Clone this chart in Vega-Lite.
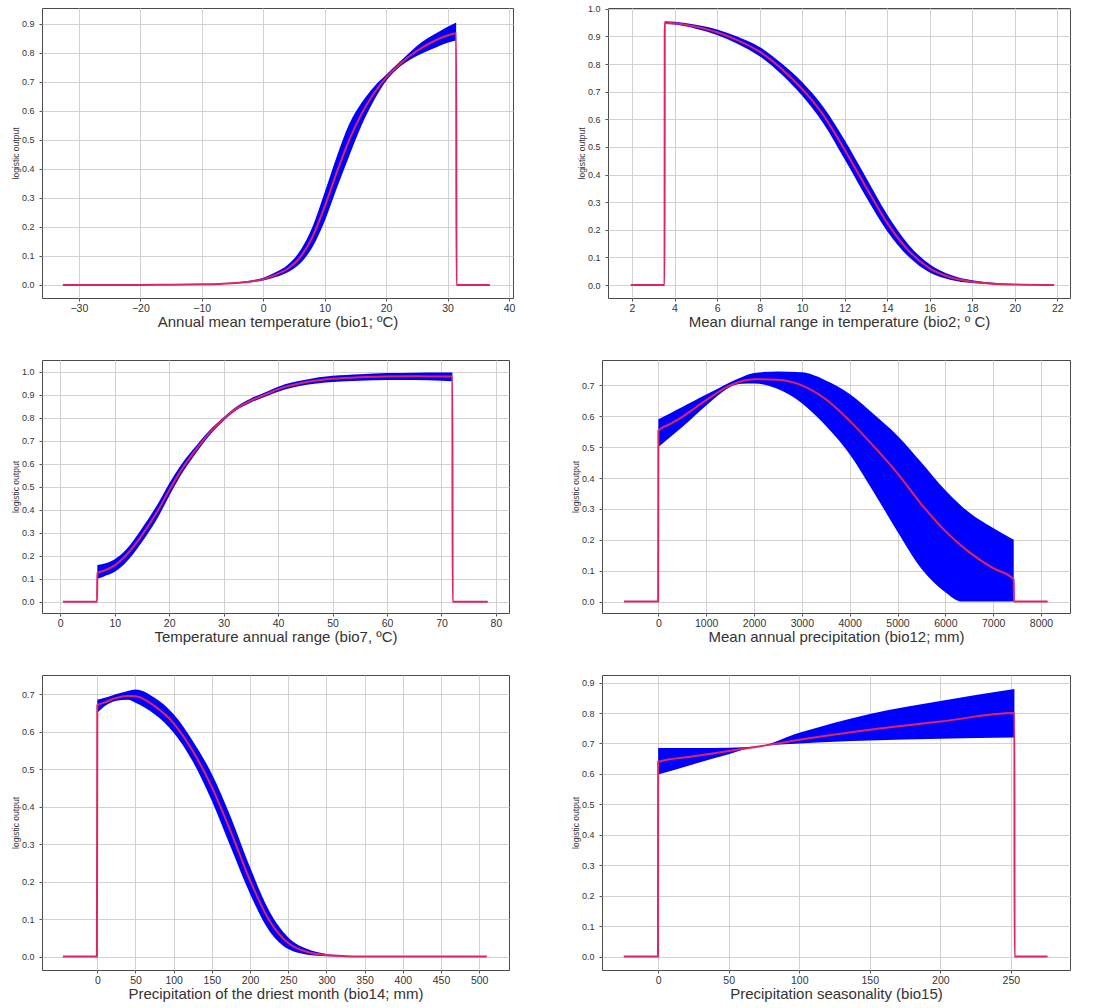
{
  "$schema": "https://vega.github.io/schema/vega-lite/v6.json",
  "background": "white",
  "padding": {"left": 10, "top": 4, "right": 5, "bottom": 0},
  "spacing": 29,
  "config": {
    "font": "Liberation Sans",
    "view": {"stroke": "#4a4a4a", "strokeWidth": 1},
    "axis": {"grid": true, "gridColor": "#d2d2d2", "gridWidth": 1, "domain": false, "tickColor": "#555555", "tickSize": 3, "labelFont": "Liberation Sans", "labelColor": "#333333", "titleFont": "Liberation Sans", "titleFontWeight": "normal", "titleColor": "#333333", "labelFlush": false, "labelOverlap": false},
    "axisX": {"titleFontSize": 15, "labelFontSize": 10.5, "labelPadding": 2, "titlePadding": 1, "minExtent": 15, "maxExtent": 15},
    "axisY": {"titleFontSize": 8.5, "labelFontSize": 9, "labelPadding": 5, "titlePadding": 1, "minExtent": 21, "maxExtent": 21}
  },
  "datasets": {
    "m1": [
      {"i":0,"x":-32.6,"mean":0},{"i":1,"x":-25,"mean":0},{"i":2,"x":-20,"mean":0},{"i":3,"x":-15,"mean":0.001},{"i":4,"x":-10,"mean":0.002},{"i":5,"x":-5,"mean":0.006},{"i":6,"x":-2,"mean":0.012},{"i":7,"x":0,"mean":0.02},{"i":8,"x":2,"mean":0.035},{"i":9,"x":4,"mean":0.056},{"i":10,"x":6,"mean":0.095},{"i":11,"x":8,"mean":0.165},{"i":12,"x":10,"mean":0.27},{"i":13,"x":12,"mean":0.39},{"i":14,"x":14,"mean":0.5},{"i":15,"x":16,"mean":0.59},{"i":16,"x":18,"mean":0.66},{"i":17,"x":20,"mean":0.715},{"i":18,"x":22,"mean":0.757},{"i":19,"x":24,"mean":0.792},{"i":20,"x":26,"mean":0.82},{"i":21,"x":28,"mean":0.843},{"i":22,"x":30,"mean":0.86},{"i":23,"x":31.4,"mean":0.868},{"i":24,"x":31.45,"mean":0},{"i":25,"x":36.9,"mean":0}
    ],
    "b1": [
      {"x":-32.6,"lo":0,"hi":0},{"x":-15,"lo":0,"hi":0.002},{"x":-10,"lo":0.001,"hi":0.003},{"x":-5,"lo":0.004,"hi":0.008},{"x":-2,"lo":0.009,"hi":0.015},{"x":0,"lo":0.015,"hi":0.025},{"x":2,"lo":0.027,"hi":0.044},{"x":4,"lo":0.044,"hi":0.07},{"x":6,"lo":0.074,"hi":0.118},{"x":8,"lo":0.13,"hi":0.2},{"x":10,"lo":0.22,"hi":0.32},{"x":12,"lo":0.335,"hi":0.445},{"x":14,"lo":0.445,"hi":0.555},{"x":16,"lo":0.55,"hi":0.628},{"x":18,"lo":0.635,"hi":0.683},{"x":20,"lo":0.703,"hi":0.725},{"x":22,"lo":0.748,"hi":0.765},{"x":24,"lo":0.778,"hi":0.805},{"x":26,"lo":0.8,"hi":0.84},{"x":28,"lo":0.818,"hi":0.866},{"x":30,"lo":0.835,"hi":0.89},{"x":31.4,"lo":0.843,"hi":0.905}
    ],
    "m2": [
      {"i":0,"x":1.94,"mean":0},{"i":1,"x":3.53,"mean":0},{"i":2,"x":3.54,"mean":0.95},{"i":3,"x":4,"mean":0.948},{"i":4,"x":5,"mean":0.935},{"i":5,"x":6,"mean":0.915},{"i":6,"x":7,"mean":0.885},{"i":7,"x":8,"mean":0.845},{"i":8,"x":9,"mean":0.785},{"i":9,"x":10,"mean":0.71},{"i":10,"x":11,"mean":0.615},{"i":11,"x":12,"mean":0.49},{"i":12,"x":13,"mean":0.355},{"i":13,"x":14,"mean":0.225},{"i":14,"x":15,"mean":0.125},{"i":15,"x":16,"mean":0.06},{"i":16,"x":17,"mean":0.027},{"i":17,"x":18,"mean":0.012},{"i":18,"x":19,"mean":0.005},{"i":19,"x":20,"mean":0.002},{"i":20,"x":21.85,"mean":0}
    ],
    "b2": [
      {"x":3.54,"lo":0.945,"hi":0.955},{"x":4,"lo":0.943,"hi":0.953},{"x":5,"lo":0.928,"hi":0.942},{"x":6,"lo":0.905,"hi":0.925},{"x":7,"lo":0.872,"hi":0.898},{"x":8,"lo":0.828,"hi":0.862},{"x":9,"lo":0.765,"hi":0.805},{"x":10,"lo":0.685,"hi":0.735},{"x":11,"lo":0.585,"hi":0.645},{"x":12,"lo":0.455,"hi":0.525},{"x":13,"lo":0.32,"hi":0.39},{"x":14,"lo":0.195,"hi":0.255},{"x":15,"lo":0.103,"hi":0.147},{"x":16,"lo":0.045,"hi":0.075},{"x":17,"lo":0.018,"hi":0.036},{"x":18,"lo":0.007,"hi":0.017},{"x":19,"lo":0.002,"hi":0.008},{"x":20,"lo":0,"hi":0.004},{"x":21.85,"lo":0,"hi":0.001}
    ],
    "m3": [
      {"i":0,"x":0.5,"mean":0},{"i":1,"x":6.75,"mean":0},{"i":2,"x":6.8,"mean":0.125},{"i":3,"x":8,"mean":0.135},{"i":4,"x":10,"mean":0.158},{"i":5,"x":12,"mean":0.2},{"i":6,"x":15,"mean":0.29},{"i":7,"x":18,"mean":0.4},{"i":8,"x":20,"mean":0.485},{"i":9,"x":22,"mean":0.565},{"i":10,"x":25,"mean":0.665},{"i":11,"x":28,"mean":0.75},{"i":12,"x":30,"mean":0.795},{"i":13,"x":32,"mean":0.835},{"i":14,"x":35,"mean":0.875},{"i":15,"x":38,"mean":0.905},{"i":16,"x":40,"mean":0.925},{"i":17,"x":45,"mean":0.955},{"i":18,"x":50,"mean":0.97},{"i":19,"x":55,"mean":0.977},{"i":20,"x":60,"mean":0.98},{"i":21,"x":65,"mean":0.981},{"i":22,"x":70,"mean":0.98},{"i":23,"x":72,"mean":0.98},{"i":24,"x":72.05,"mean":0},{"i":25,"x":78.5,"mean":0}
    ],
    "b3": [
      {"x":6.8,"lo":0.1,"hi":0.16},{"x":8,"lo":0.11,"hi":0.165},{"x":10,"lo":0.13,"hi":0.185},{"x":12,"lo":0.17,"hi":0.225},{"x":15,"lo":0.26,"hi":0.32},{"x":18,"lo":0.37,"hi":0.43},{"x":20,"lo":0.46,"hi":0.515},{"x":22,"lo":0.545,"hi":0.59},{"x":25,"lo":0.65,"hi":0.68},{"x":28,"lo":0.74,"hi":0.76},{"x":30,"lo":0.788,"hi":0.803},{"x":32,"lo":0.828,"hi":0.843},{"x":35,"lo":0.867,"hi":0.885},{"x":38,"lo":0.895,"hi":0.915},{"x":40,"lo":0.914,"hi":0.936},{"x":45,"lo":0.943,"hi":0.966},{"x":50,"lo":0.956,"hi":0.983},{"x":55,"lo":0.962,"hi":0.99},{"x":60,"lo":0.965,"hi":0.995},{"x":65,"lo":0.965,"hi":0.997},{"x":70,"lo":0.962,"hi":0.998},{"x":72,"lo":0.96,"hi":0.998}
    ],
    "m4": [
      {"i":0,"x":-718,"mean":0},{"i":1,"x":-5,"mean":0},{"i":2,"x":0,"mean":0.553},{"i":3,"x":250,"mean":0.575},{"i":4,"x":500,"mean":0.598},{"i":5,"x":750,"mean":0.625},{"i":6,"x":1000,"mean":0.652},{"i":7,"x":1500,"mean":0.7},{"i":8,"x":2000,"mean":0.72},{"i":9,"x":2500,"mean":0.718},{"i":10,"x":3000,"mean":0.7},{"i":11,"x":3500,"mean":0.655},{"i":12,"x":4000,"mean":0.585},{"i":13,"x":4500,"mean":0.503},{"i":14,"x":5000,"mean":0.415},{"i":15,"x":5500,"mean":0.315},{"i":16,"x":6000,"mean":0.228},{"i":17,"x":6500,"mean":0.16},{"i":18,"x":7000,"mean":0.108},{"i":19,"x":7430,"mean":0.072},{"i":20,"x":7435,"mean":0},{"i":21,"x":8140,"mean":0}
    ],
    "b4": [
      {"x":0,"lo":0.5,"hi":0.59},{"x":250,"lo":0.533,"hi":0.61},{"x":500,"lo":0.565,"hi":0.63},{"x":750,"lo":0.6,"hi":0.65},{"x":1000,"lo":0.635,"hi":0.67},{"x":1250,"lo":0.668,"hi":0.69},{"x":1500,"lo":0.695,"hi":0.71},{"x":1750,"lo":0.705,"hi":0.727},{"x":2000,"lo":0.706,"hi":0.74},{"x":2500,"lo":0.688,"hi":0.745},{"x":3000,"lo":0.642,"hi":0.742},{"x":3500,"lo":0.569,"hi":0.716},{"x":4000,"lo":0.477,"hi":0.672},{"x":4500,"lo":0.355,"hi":0.607},{"x":5000,"lo":0.226,"hi":0.537},{"x":5500,"lo":0.106,"hi":0.45},{"x":6000,"lo":0.03,"hi":0.36},{"x":6330,"lo":0,"hi":0.31},{"x":6500,"lo":0,"hi":0.288},{"x":7000,"lo":0,"hi":0.238},{"x":7430,"lo":0,"hi":0.2}
    ],
    "m5": [
      {"i":0,"x":-45,"mean":0},{"i":1,"x":-0.5,"mean":0},{"i":2,"x":0,"mean":0.67},{"i":3,"x":10,"mean":0.678},{"i":4,"x":25,"mean":0.69},{"i":5,"x":40,"mean":0.695},{"i":6,"x":50,"mean":0.694},{"i":7,"x":75,"mean":0.668},{"i":8,"x":100,"mean":0.622},{"i":9,"x":125,"mean":0.548},{"i":10,"x":150,"mean":0.452},{"i":11,"x":175,"mean":0.332},{"i":12,"x":200,"mean":0.203},{"i":13,"x":225,"mean":0.097},{"i":14,"x":250,"mean":0.036},{"i":15,"x":275,"mean":0.012},{"i":16,"x":300,"mean":0.004},{"i":17,"x":325,"mean":0.001},{"i":18,"x":350,"mean":0},{"i":19,"x":510,"mean":0}
    ],
    "b5": [
      {"x":0,"lo":0.65,"hi":0.685},{"x":10,"lo":0.668,"hi":0.69},{"x":25,"lo":0.682,"hi":0.7},{"x":40,"lo":0.685,"hi":0.708},{"x":50,"lo":0.677,"hi":0.712},{"x":75,"lo":0.646,"hi":0.69},{"x":100,"lo":0.597,"hi":0.646},{"x":125,"lo":0.52,"hi":0.575},{"x":150,"lo":0.415,"hi":0.487},{"x":175,"lo":0.29,"hi":0.371},{"x":200,"lo":0.167,"hi":0.238},{"x":225,"lo":0.069,"hi":0.122},{"x":250,"lo":0.02,"hi":0.051},{"x":275,"lo":0.005,"hi":0.02},{"x":300,"lo":0.001,"hi":0.007},{"x":325,"lo":0,"hi":0.002},{"x":350,"lo":0,"hi":0}
    ],
    "m6": [
      {"i":0,"x":-24.4,"mean":0},{"i":1,"x":-0.1,"mean":0},{"i":2,"x":0,"mean":0.64},{"i":3,"x":25,"mean":0.658},{"i":4,"x":50,"mean":0.675},{"i":5,"x":75,"mean":0.693},{"i":6,"x":100,"mean":0.712},{"i":7,"x":150,"mean":0.745},{"i":8,"x":200,"mean":0.772},{"i":9,"x":252.5,"mean":0.8},{"i":10,"x":252.6,"mean":0},{"i":11,"x":276,"mean":0}
    ],
    "b6": [
      {"x":0,"lo":0.598,"hi":0.685},{"x":25,"lo":0.632,"hi":0.685},{"x":50,"lo":0.665,"hi":0.686},{"x":70,"lo":0.69,"hi":0.69},{"x":100,"lo":0.7,"hi":0.735},{"x":150,"lo":0.71,"hi":0.797},{"x":200,"lo":0.716,"hi":0.84},{"x":252.5,"lo":0.72,"hi":0.879}
    ]
  },
  "vconcat": [
    {
      "spacing": 60,
      "hconcat": [
        {
          "width": 471, "height": 290,
          "encoding": {"x": {"field": "x", "type": "quantitative", "scale": {"domain": [-36, 40.65], "nice": false, "zero": false}, "axis": {"values": [-30,-20,-10,0,10,20,30,40], "format": "d", "title": "Annual mean temperature (bio1; ºC)"}}},
          "layer": [
            {"data": {"name": "b1"}, "mark": {"type": "area", "color": "#0000ff", "interpolate": "monotone"}, "encoding": {"y": {"field": "lo", "type": "quantitative", "title": "logistic output", "scale": {"domain": [-0.045, 0.955], "nice": false, "zero": false}, "axis": {"values": [0,0.1,0.2,0.3,0.4,0.5,0.6,0.7,0.8,0.9], "format": ".1f"}}, "y2": {"field": "hi"}}},
            {"data": {"name": "m1"}, "mark": {"type": "line", "color": "#e3245c", "strokeWidth": 2, "interpolate": "monotone"}, "encoding": {"y": {"field": "mean", "type": "quantitative", "title": "logistic output", "axis": {"values": [0,0.1,0.2,0.3,0.4,0.5,0.6,0.7,0.8,0.9], "format": ".1f"}}, "order": {"field": "i"}}}
          ]
        },
        {
          "width": 462, "height": 290,
          "encoding": {"x": {"field": "x", "type": "quantitative", "scale": {"domain": [0.87, 22.6], "nice": false, "zero": false}, "axis": {"values": [2,4,6,8,10,12,14,16,18,20,22], "format": "d", "title": "Mean diurnal range in temperature (bio2; º C)"}}},
          "layer": [
            {"data": {"name": "b2"}, "mark": {"type": "area", "color": "#0000ff", "interpolate": "monotone"}, "encoding": {"y": {"field": "lo", "type": "quantitative", "title": "logistic output", "scale": {"domain": [-0.047, 1.003], "nice": false, "zero": false}, "axis": {"values": [0,0.1,0.2,0.3,0.4,0.5,0.6,0.7,0.8,0.9,1.0], "format": ".1f"}}, "y2": {"field": "hi"}}},
            {"data": {"name": "m2"}, "mark": {"type": "line", "color": "#e3245c", "strokeWidth": 2, "interpolate": "monotone"}, "encoding": {"y": {"field": "mean", "type": "quantitative", "title": "logistic output", "axis": {"values": [0,0.1,0.2,0.3,0.4,0.5,0.6,0.7,0.8,0.9,1.0], "format": ".1f"}}, "order": {"field": "i"}}}
          ]
        }
      ]
    },
    {
      "spacing": 60,
      "hconcat": [
        {
          "width": 467, "height": 253,
          "encoding": {"x": {"field": "x", "type": "quantitative", "scale": {"domain": [-3.36, 82.4], "nice": false, "zero": false}, "axis": {"values": [0,10,20,30,40,50,60,70,80], "format": "d", "title": "Temperature annual range (bio7, ºC)"}}},
          "layer": [
            {"data": {"name": "b3"}, "mark": {"type": "area", "color": "#0000ff", "interpolate": "monotone"}, "encoding": {"y": {"field": "lo", "type": "quantitative", "title": "logistic output", "scale": {"domain": [-0.049, 1.052], "nice": false, "zero": false}, "axis": {"values": [0,0.1,0.2,0.3,0.4,0.5,0.6,0.7,0.8,0.9,1.0], "format": ".1f"}}, "y2": {"field": "hi"}}},
            {"data": {"name": "m3"}, "mark": {"type": "line", "color": "#e3245c", "strokeWidth": 2, "interpolate": "monotone"}, "encoding": {"y": {"field": "mean", "type": "quantitative", "title": "logistic output", "axis": {"values": [0,0.1,0.2,0.3,0.4,0.5,0.6,0.7,0.8,0.9,1.0], "format": ".1f"}}, "order": {"field": "i"}}}
          ]
        },
        {
          "width": 468, "height": 253,
          "encoding": {"x": {"field": "x", "type": "quantitative", "scale": {"domain": [-1179, 8607], "nice": false, "zero": false}, "axis": {"values": [0,1000,2000,3000,4000,5000,6000,7000,8000], "format": "d", "title": "Mean annual precipitation (bio12; mm)"}}},
          "layer": [
            {"data": {"name": "b4"}, "mark": {"type": "area", "color": "#0000ff", "interpolate": "monotone"}, "encoding": {"y": {"field": "lo", "type": "quantitative", "title": "logistic output", "scale": {"domain": [-0.037, 0.782], "nice": false, "zero": false}, "axis": {"values": [0,0.1,0.2,0.3,0.4,0.5,0.6,0.7], "format": ".1f"}}, "y2": {"field": "hi"}}},
            {"data": {"name": "m4"}, "mark": {"type": "line", "color": "#e3245c", "strokeWidth": 2, "interpolate": "monotone"}, "encoding": {"y": {"field": "mean", "type": "quantitative", "title": "logistic output", "axis": {"values": [0,0.1,0.2,0.3,0.4,0.5,0.6,0.7], "format": ".1f"}}, "order": {"field": "i"}}}
          ]
        }
      ]
    },
    {
      "spacing": 60,
      "hconcat": [
        {
          "width": 467, "height": 295,
          "encoding": {"x": {"field": "x", "type": "quantitative", "scale": {"domain": [-72.4, 539], "nice": false, "zero": false}, "axis": {"values": [0,50,100,150,200,250,300,350,400,450,500], "format": "d", "title": "Precipitation of the driest month (bio14; mm)"}}},
          "layer": [
            {"data": {"name": "b5"}, "mark": {"type": "area", "color": "#0000ff", "interpolate": "monotone"}, "encoding": {"y": {"field": "lo", "type": "quantitative", "title": "logistic output", "scale": {"domain": [-0.036, 0.751], "nice": false, "zero": false}, "axis": {"values": [0,0.1,0.2,0.3,0.4,0.5,0.6,0.7], "format": ".1f"}}, "y2": {"field": "hi"}}},
            {"data": {"name": "m5"}, "mark": {"type": "line", "color": "#e3245c", "strokeWidth": 2, "interpolate": "monotone"}, "encoding": {"y": {"field": "mean", "type": "quantitative", "title": "logistic output", "axis": {"values": [0,0.1,0.2,0.3,0.4,0.5,0.6,0.7], "format": ".1f"}}, "order": {"field": "i"}}}
          ]
        },
        {
          "width": 468, "height": 295,
          "encoding": {"x": {"field": "x", "type": "quantitative", "scale": {"domain": [-39.8, 291.9], "nice": false, "zero": false}, "axis": {"values": [0,50,100,150,200,250], "format": "d", "title": "Precipitation seasonality (bio15)"}}},
          "layer": [
            {"data": {"name": "b6"}, "mark": {"type": "area", "color": "#0000ff", "interpolate": "monotone"}, "encoding": {"y": {"field": "lo", "type": "quantitative", "title": "logistic output", "scale": {"domain": [-0.044, 0.925], "nice": false, "zero": false}, "axis": {"values": [0,0.1,0.2,0.3,0.4,0.5,0.6,0.7,0.8,0.9], "format": ".1f"}}, "y2": {"field": "hi"}}},
            {"data": {"name": "m6"}, "mark": {"type": "line", "color": "#e3245c", "strokeWidth": 2, "interpolate": "monotone"}, "encoding": {"y": {"field": "mean", "type": "quantitative", "title": "logistic output", "axis": {"values": [0,0.1,0.2,0.3,0.4,0.5,0.6,0.7,0.8,0.9], "format": ".1f"}}, "order": {"field": "i"}}}
          ]
        }
      ]
    }
  ]
}
